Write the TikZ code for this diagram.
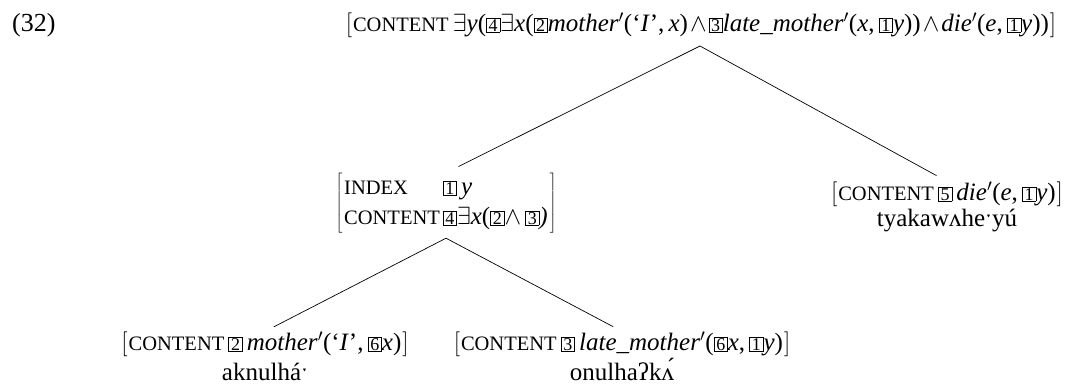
\documentclass[tikz,border=0pt]{standalone}
\usepackage{fontspec}
\setmainfont{Liberation Serif}
\newcommand\bx[1]{{\fboxsep=0.8pt\fboxrule=0.6pt\fbox{\fontsize{18}{18}\selectfont\hspace{1.2pt}#1\hspace{1.2pt}}}}
\newcommand\feat[1]{{\fontsize{20.5}{24}\selectfont #1}}
\newcommand\ex{$\exists$}
\newcommand\wg{\hspace{2pt}$\wedge$\hspace{2pt}}
\newcommand\pr{$'$}
\tikzset{
  avm/.style={inner sep=0pt, font=\fontsize{25}{30}\selectfont},
  lex/.style={inner sep=0pt, anchor=base, font=\fontsize{25}{30}\selectfont},
  branch/.style={line width=0.7pt}
}
\begin{document}
\begin{tikzpicture}[x=1pt,y=-1pt]
\useasboundingbox (0,0) rectangle (1075,390);
\node[inner sep=0pt, anchor=west, font=\fontsize{26}{30}\selectfont] (num) at (12,25) {(32)};
\node[avm] (top) at (701,25) {$\left[\mbox{\hspace{1pt}\feat{CONTENT}\,\ex\textit{y}(\bx{4}\ex\textit{x}(\bx{2}\textit{mother}\pr(‘\textit{I}’,\,\textit{x})\wg\bx{3}\textit{late\_mother}\pr(\textit{x},\,\bx{1}\textit{y}))\wg\textit{die}\pr(\textit{e},\,\bx{1}\textit{y}))\hspace{1pt}}\right]$};
\node[avm] (idx) at (446,203) {$\left[\mbox{\hspace{2pt}\begin{tabular}{@{}l@{\hspace{3pt}}l@{}}\feat{INDEX} & \bx{1}\,\textit{y}\\ \feat{CONTENT} & \bx{4}\ex\textit{x}(\bx{2}$\wedge$\,\bx{3}\textit{)}\end{tabular}\hspace{2pt}}\right]$};
\node[avm] (die) at (947,194) {$\left[\mbox{\hspace{1pt}\feat{CONTENT}\,\bx{5}\,\textit{die}\pr(\textit{e},\,\bx{1}\textit{y})\hspace{1pt}}\right]$};
\node[lex] (dielex) at (947,226) {tyakawʌheˑyú};
\node[avm] (mom) at (265,344) {$\left[\mbox{\hspace{1pt}\feat{CONTENT}\,\bx{2}\,\textit{mother}\pr(‘\textit{I}’,\,\bx{6}\textit{x})\hspace{1pt}}\right]$};
\node[lex] (momlex) at (265,380) {aknulháˑ};
\node[avm] (late) at (622,344) {$\left[\mbox{\hspace{1pt}\feat{CONTENT}\,\bx{3}\,\textit{late\_mother}\pr(\bx{6}\textit{x},\,\bx{1}\textit{y})\hspace{1pt}}\right]$};
\node[lex] (latelex) at (622,380) {onulhaʔkʌ́};
\coordinate (apex) at (700,46);
\coordinate (apex2) at ([yshift=-5pt]idx.south);
\draw[branch, shorten >=14pt] (apex) -- (idx.north);
\draw[branch, shorten >=12pt] (apex) -- (die.north);
\draw[branch, shorten >=10pt] (apex2) -- (mom.north);
\draw[branch, shorten >=10pt] (apex2) -- (late.north);
\end{tikzpicture}
\end{document}
